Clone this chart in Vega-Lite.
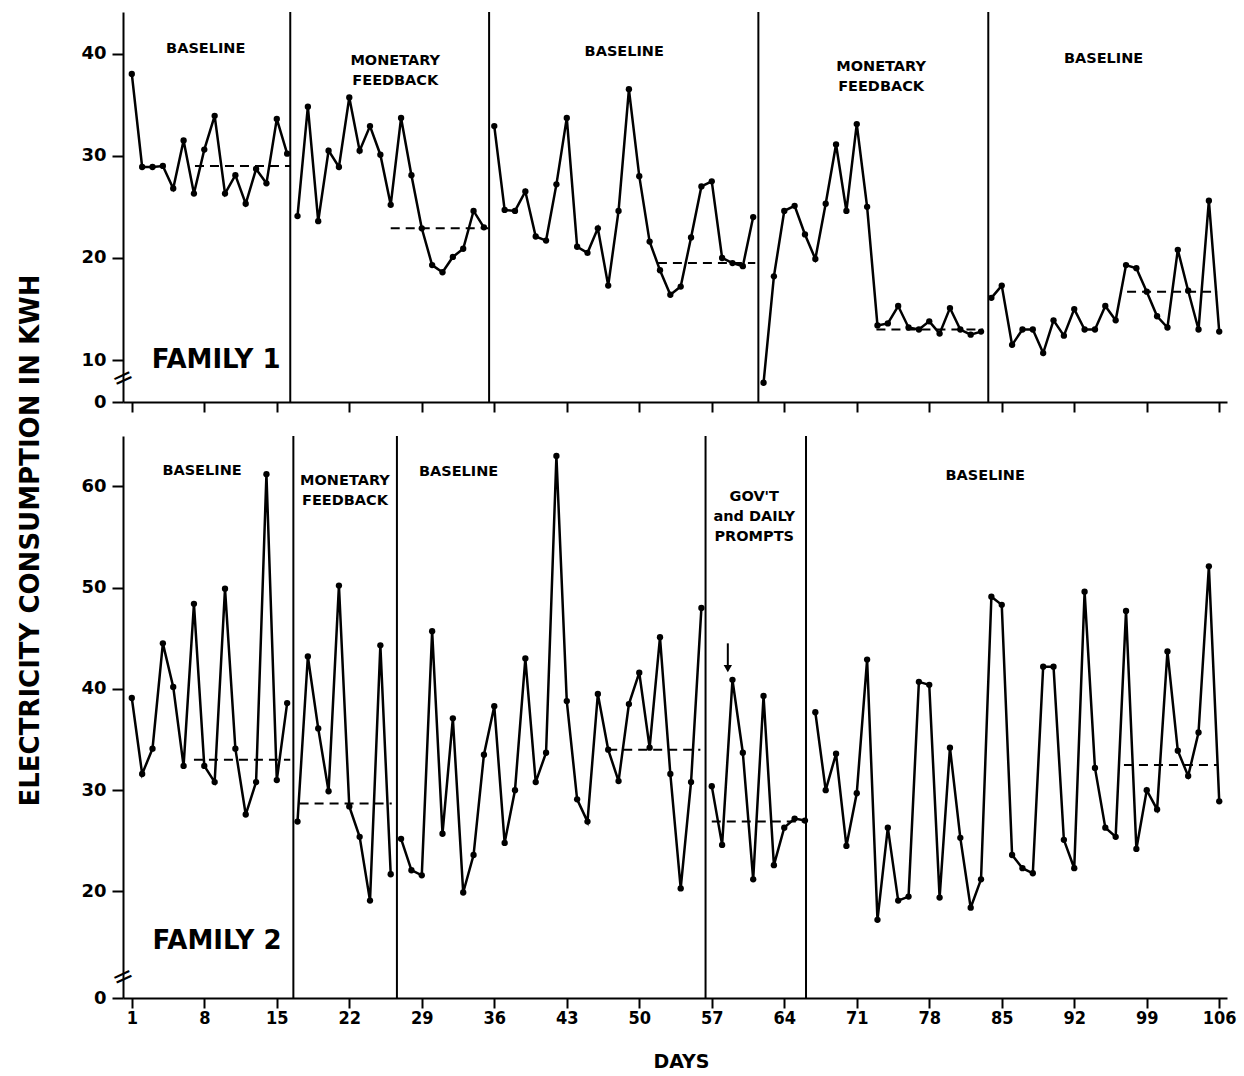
{
  "$schema": "https://vega.github.io/schema/vega-lite/v6.json",
  "background": "white",
  "padding": {"left": 17, "top": 11, "right": 5, "bottom": 0},
  "bounds": "flush",
  "spacing": 34,
  "config": {
    "view": {"stroke": null},
    "font": "DejaVu Sans",
    "axis": {"grid": false, "domainColor": "black", "tickColor": "black", "labelColor": "black", "titleColor": "black", "domainWidth": 2, "tickWidth": 2}
  },
  "datasets": {
    "f1": [
      {"day":1,"kwh":38.0,"phase":1},{"day":2,"kwh":28.9,"phase":1},{"day":3,"kwh":28.9,"phase":1},{"day":4,"kwh":29.0,"phase":1},{"day":5,"kwh":26.8,"phase":1},{"day":6,"kwh":31.5,"phase":1},{"day":7,"kwh":26.3,"phase":1},{"day":8,"kwh":30.6,"phase":1},{"day":9,"kwh":33.9,"phase":1},{"day":10,"kwh":26.3,"phase":1},{"day":11,"kwh":28.1,"phase":1},{"day":12,"kwh":25.3,"phase":1},{"day":13,"kwh":28.7,"phase":1},{"day":14,"kwh":27.3,"phase":1},{"day":15,"kwh":33.6,"phase":1},{"day":16,"kwh":30.2,"phase":1},
      {"day":17,"kwh":24.1,"phase":2},{"day":18,"kwh":34.8,"phase":2},{"day":19,"kwh":23.6,"phase":2},{"day":20,"kwh":30.5,"phase":2},{"day":21,"kwh":28.9,"phase":2},{"day":22,"kwh":35.7,"phase":2},{"day":23,"kwh":30.5,"phase":2},{"day":24,"kwh":32.9,"phase":2},{"day":25,"kwh":30.1,"phase":2},{"day":26,"kwh":25.2,"phase":2},{"day":27,"kwh":33.7,"phase":2},{"day":28,"kwh":28.1,"phase":2},{"day":29,"kwh":22.9,"phase":2},{"day":30,"kwh":19.3,"phase":2},{"day":31,"kwh":18.6,"phase":2},{"day":32,"kwh":20.1,"phase":2},{"day":33,"kwh":20.9,"phase":2},{"day":34,"kwh":24.6,"phase":2},{"day":35,"kwh":23.0,"phase":2},
      {"day":36,"kwh":32.9,"phase":3},{"day":37,"kwh":24.7,"phase":3},{"day":38,"kwh":24.6,"phase":3},{"day":39,"kwh":26.5,"phase":3},{"day":40,"kwh":22.1,"phase":3},{"day":41,"kwh":21.7,"phase":3},{"day":42,"kwh":27.2,"phase":3},{"day":43,"kwh":33.7,"phase":3},{"day":44,"kwh":21.1,"phase":3},{"day":45,"kwh":20.5,"phase":3},{"day":46,"kwh":22.9,"phase":3},{"day":47,"kwh":17.3,"phase":3},{"day":48,"kwh":24.6,"phase":3},{"day":49,"kwh":36.5,"phase":3},{"day":50,"kwh":28.0,"phase":3},{"day":51,"kwh":21.6,"phase":3},{"day":52,"kwh":18.8,"phase":3},{"day":53,"kwh":16.4,"phase":3},{"day":54,"kwh":17.2,"phase":3},{"day":55,"kwh":22.0,"phase":3},{"day":56,"kwh":27.0,"phase":3},{"day":57,"kwh":27.5,"phase":3},{"day":58,"kwh":20.0,"phase":3},{"day":59,"kwh":19.5,"phase":3},{"day":60,"kwh":19.2,"phase":3},{"day":61,"kwh":24.0,"phase":3},
      {"day":62,"kwh":4.6,"phase":4},{"day":63,"kwh":18.2,"phase":4},{"day":64,"kwh":24.6,"phase":4},{"day":65,"kwh":25.1,"phase":4},{"day":66,"kwh":22.3,"phase":4},{"day":67,"kwh":19.9,"phase":4},{"day":68,"kwh":25.3,"phase":4},{"day":69,"kwh":31.1,"phase":4},{"day":70,"kwh":24.6,"phase":4},{"day":71,"kwh":33.1,"phase":4},{"day":72,"kwh":25.0,"phase":4},{"day":73,"kwh":13.4,"phase":4},{"day":74,"kwh":13.6,"phase":4},{"day":75,"kwh":15.3,"phase":4},{"day":76,"kwh":13.2,"phase":4},{"day":77,"kwh":13.0,"phase":4},{"day":78,"kwh":13.8,"phase":4},{"day":79,"kwh":12.6,"phase":4},{"day":80,"kwh":15.1,"phase":4},{"day":81,"kwh":13.0,"phase":4},{"day":82,"kwh":12.5,"phase":4},{"day":83,"kwh":12.8,"phase":4},
      {"day":84,"kwh":16.1,"phase":5},{"day":85,"kwh":17.3,"phase":5},{"day":86,"kwh":11.5,"phase":5},{"day":87,"kwh":13.0,"phase":5},{"day":88,"kwh":13.0,"phase":5},{"day":89,"kwh":10.7,"phase":5},{"day":90,"kwh":13.9,"phase":5},{"day":91,"kwh":12.4,"phase":5},{"day":92,"kwh":15.0,"phase":5},{"day":93,"kwh":13.0,"phase":5},{"day":94,"kwh":13.0,"phase":5},{"day":95,"kwh":15.3,"phase":5},{"day":96,"kwh":13.9,"phase":5},{"day":97,"kwh":19.3,"phase":5},{"day":98,"kwh":19.0,"phase":5},{"day":99,"kwh":16.7,"phase":5},{"day":100,"kwh":14.3,"phase":5},{"day":101,"kwh":13.2,"phase":5},{"day":102,"kwh":20.8,"phase":5},{"day":103,"kwh":16.8,"phase":5},{"day":104,"kwh":13.0,"phase":5},{"day":105,"kwh":25.6,"phase":5},{"day":106,"kwh":12.8,"phase":5}
    ],
    "f2": [
      {"day":1,"kwh":39.1,"phase":1},{"day":2,"kwh":31.6,"phase":1},{"day":3,"kwh":34.1,"phase":1},{"day":4,"kwh":44.5,"phase":1},{"day":5,"kwh":40.2,"phase":1},{"day":6,"kwh":32.4,"phase":1},{"day":7,"kwh":48.4,"phase":1},{"day":8,"kwh":32.4,"phase":1},{"day":9,"kwh":30.8,"phase":1},{"day":10,"kwh":49.9,"phase":1},{"day":11,"kwh":34.1,"phase":1},{"day":12,"kwh":27.6,"phase":1},{"day":13,"kwh":30.8,"phase":1},{"day":14,"kwh":61.2,"phase":1},{"day":15,"kwh":31.0,"phase":1},{"day":16,"kwh":38.6,"phase":1},
      {"day":17,"kwh":26.9,"phase":2},{"day":18,"kwh":43.2,"phase":2},{"day":19,"kwh":36.1,"phase":2},{"day":20,"kwh":29.9,"phase":2},{"day":21,"kwh":50.2,"phase":2},{"day":22,"kwh":28.4,"phase":2},{"day":23,"kwh":25.4,"phase":2},{"day":24,"kwh":19.1,"phase":2},{"day":25,"kwh":44.3,"phase":2},{"day":26,"kwh":21.7,"phase":2},
      {"day":27,"kwh":25.2,"phase":3},{"day":28,"kwh":22.1,"phase":3},{"day":29,"kwh":21.6,"phase":3},{"day":30,"kwh":45.7,"phase":3},{"day":31,"kwh":25.7,"phase":3},{"day":32,"kwh":37.1,"phase":3},{"day":33,"kwh":19.9,"phase":3},{"day":34,"kwh":23.6,"phase":3},{"day":35,"kwh":33.5,"phase":3},{"day":36,"kwh":38.3,"phase":3},{"day":37,"kwh":24.8,"phase":3},{"day":38,"kwh":30.0,"phase":3},{"day":39,"kwh":43.0,"phase":3},{"day":40,"kwh":30.8,"phase":3},{"day":41,"kwh":33.7,"phase":3},{"day":42,"kwh":63.0,"phase":3},{"day":43,"kwh":38.8,"phase":3},{"day":44,"kwh":29.1,"phase":3},{"day":45,"kwh":26.9,"phase":3},{"day":46,"kwh":39.5,"phase":3},{"day":47,"kwh":34.0,"phase":3},{"day":48,"kwh":30.9,"phase":3},{"day":49,"kwh":38.5,"phase":3},{"day":50,"kwh":41.6,"phase":3},{"day":51,"kwh":34.2,"phase":3},{"day":52,"kwh":45.1,"phase":3},{"day":53,"kwh":31.6,"phase":3},{"day":54,"kwh":20.3,"phase":3},{"day":55,"kwh":30.8,"phase":3},{"day":56,"kwh":48.0,"phase":3},
      {"day":57,"kwh":30.4,"phase":4},{"day":58,"kwh":24.6,"phase":4},{"day":59,"kwh":40.9,"phase":4},{"day":60,"kwh":33.7,"phase":4},{"day":61,"kwh":21.2,"phase":4},{"day":62,"kwh":39.3,"phase":4},{"day":63,"kwh":22.6,"phase":4},{"day":64,"kwh":26.3,"phase":4},{"day":65,"kwh":27.2,"phase":4},{"day":66,"kwh":27.0,"phase":4},
      {"day":67,"kwh":37.7,"phase":5},{"day":68,"kwh":30.0,"phase":5},{"day":69,"kwh":33.6,"phase":5},{"day":70,"kwh":24.5,"phase":5},{"day":71,"kwh":29.7,"phase":5},{"day":72,"kwh":42.9,"phase":5},{"day":73,"kwh":17.2,"phase":5},{"day":74,"kwh":26.3,"phase":5},{"day":75,"kwh":19.1,"phase":5},{"day":76,"kwh":19.5,"phase":5},{"day":77,"kwh":40.7,"phase":5},{"day":78,"kwh":40.4,"phase":5},{"day":79,"kwh":19.4,"phase":5},{"day":80,"kwh":34.2,"phase":5},{"day":81,"kwh":25.3,"phase":5},{"day":82,"kwh":18.4,"phase":5},{"day":83,"kwh":21.2,"phase":5},{"day":84,"kwh":49.1,"phase":5},{"day":85,"kwh":48.3,"phase":5},{"day":86,"kwh":23.6,"phase":5},{"day":87,"kwh":22.3,"phase":5},{"day":88,"kwh":21.8,"phase":5},{"day":89,"kwh":42.2,"phase":5},{"day":90,"kwh":42.2,"phase":5},{"day":91,"kwh":25.1,"phase":5},{"day":92,"kwh":22.3,"phase":5},{"day":93,"kwh":49.6,"phase":5},{"day":94,"kwh":32.2,"phase":5},{"day":95,"kwh":26.3,"phase":5},{"day":96,"kwh":25.4,"phase":5},{"day":97,"kwh":47.7,"phase":5},{"day":98,"kwh":24.2,"phase":5},{"day":99,"kwh":30.0,"phase":5},{"day":100,"kwh":28.1,"phase":5},{"day":101,"kwh":43.7,"phase":5},{"day":102,"kwh":33.9,"phase":5},{"day":103,"kwh":31.4,"phase":5},{"day":104,"kwh":35.7,"phase":5},{"day":105,"kwh":52.1,"phase":5},{"day":106,"kwh":28.9,"phase":5}
    ],
    "phases1": [{"day":16.3},{"day":35.5},{"day":61.5},{"day":83.7}],
    "phases2": [{"day":16.6},{"day":26.6},{"day":56.4},{"day":66.1}],
    "means1": [
      {"start":7.1,"end":16.3,"mean":29.0},{"start":26.0,"end":35.45,"mean":22.9},{"start":51.8,"end":61.2,"mean":19.5},{"start":72.9,"end":83.2,"mean":13.0},{"start":97.1,"end":105.8,"mean":16.7}
    ],
    "means2": [
      {"start":7.0,"end":16.3,"mean":33.0},{"start":17.2,"end":26.1,"mean":28.7},{"start":47.0,"end":55.9,"mean":34.0},{"start":57.0,"end":66.0,"mean":26.9},{"start":96.8,"end":105.8,"mean":32.5}
    ],
    "labels1": [
      {"day":8.14,"kwh":40.45,"label":"BASELINE"},
      {"day":26.44,"kwh":39.25,"label":"MONETARY\nFEEDBACK"},
      {"day":48.55,"kwh":40.1,"label":"BASELINE"},
      {"day":73.35,"kwh":38.7,"label":"MONETARY\nFEEDBACK"},
      {"day":94.83,"kwh":39.5,"label":"BASELINE"}
    ],
    "labels2": [
      {"day":7.78,"kwh":61.55,"label":"BASELINE"},
      {"day":21.58,"kwh":60.5,"label":"MONETARY\nFEEDBACK"},
      {"day":32.55,"kwh":61.37,"label":"BASELINE"},
      {"day":61.1,"kwh":58.92,"label":"GOV'T\nand DAILY\nPROMPTS"},
      {"day":83.4,"kwh":61.0,"label":"BASELINE"}
    ],
    "family1": [{"day":9.14,"kwh":10.05,"label":"FAMILY 1"}],
    "family2": [{"day":9.23,"kwh":15.1,"label":"FAMILY 2"}],
    "arrow2": [{"day":58.55,"top":44.5,"head":42.0}]
  },
  "vconcat": [
    {
      "width": 1104,
      "height": 390,
      "layer": [
        {
          "data": {"name": "phases1"},
          "mark": {"type": "rule", "color": "black", "strokeWidth": 2},
          "encoding": {
            "x": {"field": "day", "type": "quantitative", "scale": {"domain": [0.15, 106.75], "nice": false, "zero": false},
              "axis": {"values": [1,8,15,22,29,36,43,50,57,64,71,78,85,92,99,106], "labels": false, "title": null, "tickSize": 10}}
          }
        },
        {
          "data": {"name": "means1"},
          "mark": {"type": "rule", "color": "black", "strokeWidth": 2, "strokeDash": [9, 6]},
          "encoding": {
            "x": {"field": "start", "type": "quantitative", "scale": {"domain": [0.15, 106.75], "nice": false, "zero": false}},
            "x2": {"field": "end"},
            "y": {"field": "mean", "type": "quantitative", "scale": {"domain": [0, 10, 44.06], "range": [390, 348.2, 0], "nice": false, "zero": false}}
          }
        },
        {
          "data": {"name": "f1"},
          "mark": {"type": "line", "color": "black", "strokeWidth": 2.5, "point": {"filled": true, "size": 40, "color": "black"}},
          "encoding": {
            "x": {"field": "day", "type": "quantitative", "scale": {"domain": [0.15, 106.75], "nice": false, "zero": false}},
            "y": {"field": "kwh", "type": "quantitative", "scale": {"domain": [0, 10, 44.06], "range": [390, 348.2, 0], "nice": false, "zero": false},
              "axis": {"values": [0,10,20,30,40], "title": "ELECTRICITY CONSUMPTION IN KWH", "titleFontSize": 26, "titleFontWeight": "bold", "titleX": -92.7, "titleY": 528, "titleAngle": -90, "titleAlign": "center", "titleBaseline": "middle",
                "labelFontSize": 18, "labelFontWeight": "bold", "tickSize": 11, "labelPadding": 6}},
            "detail": {"field": "phase", "type": "nominal"}
          }
        },
        {
          "data": {"name": "labels1"},
          "mark": {"type": "text", "fontWeight": "bold", "fontSize": 14.5, "lineBreak": "\n", "lineHeight": 20, "align": "center", "baseline": "middle", "color": "black"},
          "encoding": {
            "x": {"field": "day", "type": "quantitative"},
            "y": {"field": "kwh", "type": "quantitative"},
            "text": {"field": "label"}
          }
        },
        {
          "data": {"name": "family1"},
          "mark": {"type": "text", "fontWeight": "bold", "fontSize": 26, "align": "center", "baseline": "middle", "color": "black"},
          "encoding": {
            "x": {"field": "day", "type": "quantitative"},
            "y": {"field": "kwh", "type": "quantitative"},
            "text": {"field": "label"}
          }
        },
        {
          "data": {"values": [{}]},
          "mark": {"type": "text", "text": "=", "fontSize": 26, "angle": -25, "align": "center", "baseline": "middle", "color": "black"},
          "encoding": {
            "x": {"datum": 0.15, "type": "quantitative"},
            "y": {"datum": 5.7, "type": "quantitative"}
          }
        }
      ]
    },
    {
      "width": 1104,
      "height": 562,
      "layer": [
        {
          "data": {"name": "phases2"},
          "mark": {"type": "rule", "color": "black", "strokeWidth": 2},
          "encoding": {
            "x": {"field": "day", "type": "quantitative", "scale": {"domain": [0.15, 106.75], "nice": false, "zero": false},
              "axis": {"values": [1,8,15,22,29,36,43,50,57,64,71,78,85,92,99,106], "title": "DAYS", "titleFontSize": 19, "titleFontWeight": "bold", "titlePadding": 25, "titleX": 558,
                "labelFontSize": 18, "labelFont": "DejaVu Sans Condensed, DejaVu Sans", "labelFontWeight": "bold", "tickSize": 10, "labelPadding": 1}}
          }
        },
        {
          "data": {"name": "means2"},
          "mark": {"type": "rule", "color": "black", "strokeWidth": 2, "strokeDash": [9, 6]},
          "encoding": {
            "x": {"field": "start", "type": "quantitative", "scale": {"domain": [0.15, 106.75], "nice": false, "zero": false}},
            "x2": {"field": "end"},
            "y": {"field": "mean", "type": "quantitative", "scale": {"domain": [0, 13, 64.97], "range": [562, 526.4, 0], "nice": false, "zero": false}}
          }
        },
        {
          "data": {"name": "f2"},
          "mark": {"type": "line", "color": "black", "strokeWidth": 2.5, "point": {"filled": true, "size": 40, "color": "black"}},
          "encoding": {
            "x": {"field": "day", "type": "quantitative", "scale": {"domain": [0.15, 106.75], "nice": false, "zero": false}},
            "y": {"field": "kwh", "type": "quantitative", "scale": {"domain": [0, 13, 64.97], "range": [562, 526.4, 0], "nice": false, "zero": false},
              "axis": {"values": [0,20,30,40,50,60], "title": null, "labelFontSize": 18, "labelFontWeight": "bold", "tickSize": 11, "labelPadding": 6}},
            "detail": {"field": "phase", "type": "nominal"}
          }
        },
        {
          "data": {"name": "labels2"},
          "mark": {"type": "text", "fontWeight": "bold", "fontSize": 14.5, "lineBreak": "\n", "lineHeight": 20, "align": "center", "baseline": "middle", "color": "black"},
          "encoding": {
            "x": {"field": "day", "type": "quantitative"},
            "y": {"field": "kwh", "type": "quantitative"},
            "text": {"field": "label"}
          }
        },
        {
          "data": {"name": "family2"},
          "mark": {"type": "text", "fontWeight": "bold", "fontSize": 26, "align": "center", "baseline": "middle", "color": "black"},
          "encoding": {
            "x": {"field": "day", "type": "quantitative"},
            "y": {"field": "kwh", "type": "quantitative"},
            "text": {"field": "label"}
          }
        },
        {
          "data": {"name": "arrow2"},
          "mark": {"type": "rule", "color": "black", "strokeWidth": 2},
          "encoding": {
            "x": {"field": "day", "type": "quantitative"},
            "y": {"field": "top", "type": "quantitative"},
            "y2": {"field": "head"}
          }
        },
        {
          "data": {"name": "arrow2"},
          "mark": {"type": "point", "shape": "triangle-down", "filled": true, "size": 70, "color": "black", "opacity": 1},
          "encoding": {
            "x": {"field": "day", "type": "quantitative"},
            "y": {"field": "head", "type": "quantitative"}
          }
        },
        {
          "data": {"values": [{}]},
          "mark": {"type": "text", "text": "=", "fontSize": 26, "angle": -25, "align": "center", "baseline": "middle", "color": "black"},
          "encoding": {
            "x": {"datum": 0.15, "type": "quantitative"},
            "y": {"datum": 7.7, "type": "quantitative"}
          }
        }
      ]
    }
  ]
}
